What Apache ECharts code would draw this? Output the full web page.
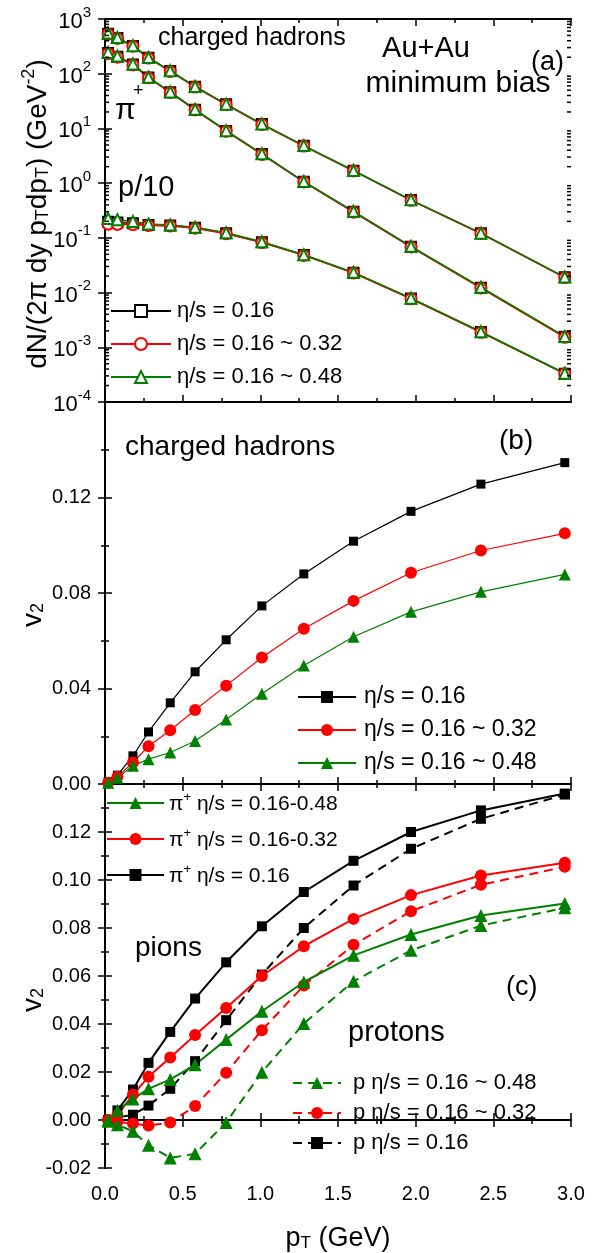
<!DOCTYPE html>
<html>
<head>
<meta charset="utf-8">
<script src="https://cdn.jsdelivr.net/npm/echarts@6/dist/echarts.min.js"></script>
<style>
  html, body { margin: 0; padding: 0; background: #ffffff; }
  #chart { width: 596px; height: 1253px; }
</style>
</head>
<body>
<div id="chart"></div>
<script>
// ---------- data ----------
// transverse momentum of the computed points (GeV)
const pT = [0.02, 0.08, 0.18, 0.28, 0.42, 0.58, 0.78, 1.01, 1.28, 1.60, 1.97, 2.42, 2.96];

// (a) invariant yields, Au+Au minimum bias
const chSpec016    = [540, 450, 322, 196, 112, 58, 27.6, 12.0, 4.80, 1.69, 0.490, 0.121, 0.0190];
const chSpec032    = [530, 442, 318, 193, 110, 57, 27.2, 11.8, 4.75, 1.67, 0.485, 0.120, 0.0188];
const chSpec048    = [555, 458, 326, 198, 113, 58.5, 27.8, 12.1, 4.85, 1.70, 0.495, 0.122, 0.0192];
const piSpec016    = [238, 205, 148, 85, 46, 22.0, 9.0, 3.40, 1.06, 0.300, 0.0690, 0.0123, 0.00155];
const piSpec032    = [232, 200, 145, 84, 45.5, 21.7, 8.9, 3.35, 1.05, 0.295, 0.0680, 0.0121, 0.00152];
const piSpec048    = [245, 210, 151, 86, 46.5, 22.3, 9.1, 3.45, 1.07, 0.305, 0.0700, 0.0125, 0.00158];
const pSpec016     = [0.197, 0.190, 0.184, 0.171, 0.168, 0.153, 0.121, 0.083, 0.0485, 0.0230, 0.0078, 0.00190, 0.000330];
const pSpec032     = [0.178, 0.176, 0.175, 0.168, 0.165, 0.150, 0.119, 0.082, 0.0478, 0.0227, 0.0077, 0.00188, 0.000330];
const pSpec048     = [0.225, 0.215, 0.200, 0.180, 0.172, 0.156, 0.124, 0.085, 0.0492, 0.0234, 0.0079, 0.00192, 0.000335];

// (b) charged hadron v2
const chV2_016 = [0.0010, 0.0037, 0.0118, 0.0218, 0.0340, 0.0470, 0.0604, 0.0746, 0.0880, 0.1017, 0.1142, 0.1256, 0.1346];
const chV2_032 = [0.0005, 0.0030, 0.0090, 0.0158, 0.0225, 0.0310, 0.0412, 0.0530, 0.0650, 0.0767, 0.0885, 0.0978, 0.1050];
const chV2_048 = [0.0005, 0.0026, 0.0076, 0.0104, 0.0132, 0.0180, 0.0270, 0.0378, 0.0496, 0.0617, 0.0721, 0.0805, 0.0878];

// (c) identified v2: pions (solid) and protons (dashed)
const piV2_016 = [0.0000, 0.0040, 0.0127, 0.0238, 0.0367, 0.0506, 0.0657, 0.0807, 0.0950, 0.1080, 0.1200, 0.1290, 0.1360];
const piV2_032 = [0.0000, 0.0020, 0.0106, 0.0180, 0.0260, 0.0354, 0.0467, 0.0600, 0.0724, 0.0838, 0.0937, 0.1019, 0.1072];
const piV2_048 = [0.0000, 0.0040, 0.0088, 0.0130, 0.0169, 0.0230, 0.0335, 0.0453, 0.0575, 0.0686, 0.0773, 0.0852, 0.0902];
const pV2_016  = [0.0000, 0.0010, 0.0022, 0.0060, 0.0130, 0.0245, 0.0416, 0.0606, 0.0800, 0.0977, 0.1130, 0.1255, 0.1356];
const pV2_032  = [0.0000, -0.0008, -0.0015, -0.0023, -0.0010, 0.0058, 0.0197, 0.0374, 0.0560, 0.0730, 0.0870, 0.0980, 0.1055];
const pV2_048  = [-0.0005, -0.0020, -0.0047, -0.0105, -0.0158, -0.0141, -0.0010, 0.0199, 0.0402, 0.0578, 0.0707, 0.0810, 0.0884];

// axis ranges
const xRange = [0, 3.0], xStep = 0.5;
const logRange = [1e-4, 1e3];
const logMinorSteps = [2, 3, 4, 5, 6, 7, 8, 9];
const v2bRange = [0, 0.16], v2bStep = 0.04;
const v2cRange = [-0.02, 0.14], v2cStep = 0.02;

// legend labels
const etaLabels = ['η/s = 0.16', 'η/s = 0.16 ~ 0.32', 'η/s = 0.16 ~ 0.48'];
const piLabels  = ['{n|π}{u|+}{n| η/s = 0.16}', '{n|π}{u|+}{n| η/s = 0.16-0.32}', '{n|π}{u|+}{n| η/s = 0.16-0.48}'];
const pLabels   = ['p η/s = 0.16', 'p η/s = 0.16 ~ 0.32', 'p η/s = 0.16 ~ 0.48'];

// ---------- styling ----------
const FONT = 'Liberation Sans, Arial, sans-serif';
const BLACK = '#000000', RED = '#ff0000', GREEN = '#008000';
const COLORS = [BLACK, RED, GREEN];

const grids = [
  { left: 105, top: 19,  width: 466, height: 383 },
  { left: 105, top: 402, width: 466, height: 382 },
  { left: 105, top: 784, width: 466, height: 384 }
];

function xAxisPair(gi, withLabels) {
  const base = {
    gridIndex: gi, type: 'value', min: xRange[0], max: xRange[1], interval: xStep,
    axisLine: { show: true, lineStyle: { color: BLACK, width: 2 } },
    axisTick: { show: true, inside: true, length: 7, lineStyle: { color: BLACK, width: 1.5 } },
    minorTick: { show: true, splitNumber: 2, length: 4, lineStyle: { color: BLACK, width: 1.5 } },
    splitLine: { show: false }, minorSplitLine: { show: false }
  };
  return [
    Object.assign({}, base, {
      position: 'bottom',
      axisLabel: withLabels ? { show: true, margin: 16, fontFamily: FONT, fontSize: 20, color: BLACK,
        formatter: v => v.toFixed(1) } : { show: false },
      name: withLabels ? '{b|p}{s|T}{b| (GeV)}' : '',
      nameLocation: 'middle', nameGap: 52,
      nameTextStyle: { rich: {
        b: { fontFamily: FONT, fontSize: 27, color: BLACK, lineHeight: 32, verticalAlign: 'bottom' },
        s: { fontFamily: FONT, fontSize: 17, color: BLACK, lineHeight: 16, verticalAlign: 'bottom' }
      } }
    }),
    Object.assign({}, base, { position: 'top', axisLabel: { show: false } })
  ];
}

function linearYPair(gi, range, step, hideMax) {
  const base = {
    gridIndex: gi, type: 'value', min: range[0], max: range[1], interval: step,
    axisLine: { show: true, lineStyle: { color: BLACK, width: 2 } },
    axisTick: { show: true, inside: true, length: 7, lineStyle: { color: BLACK, width: 1.5 } },
    minorTick: { show: true, splitNumber: 2, length: 4, lineStyle: { color: BLACK, width: 1.5 } },
    splitLine: { show: false }, minorSplitLine: { show: false }
  };
  return [
    Object.assign({}, base, {
      position: 'left',
      axisLabel: { show: true, margin: 14, fontFamily: FONT, fontSize: 20, color: BLACK,
        showMaxLabel: !hideMax, formatter: v => v.toFixed(2) }
    }),
    Object.assign({}, base, { position: 'right', axisLabel: { show: false } })
  ];
}

function logYPair(gi) {
  const base = {
    gridIndex: gi, type: 'log', logBase: 10, min: logRange[0], max: logRange[1], splitNumber: 7,
    axisLine: { show: true, lineStyle: { color: BLACK, width: 2 } },
    axisTick: { show: true, inside: true, length: 7, lineStyle: { color: BLACK, width: 1.5 } },
    minorTick: { show: false }, splitLine: { show: false }
  };
  return [
    Object.assign({}, base, {
      position: 'left',
      axisLabel: { show: true, margin: 14, color: BLACK,
        formatter: v => '{b|10}{s|' + Math.round(Math.log10(v)) + '}',
        rich: {
          b: { fontFamily: FONT, fontSize: 22, color: BLACK, lineHeight: 28, verticalAlign: 'bottom' },
          s: { fontFamily: FONT, fontSize: 15, color: BLACK, lineHeight: 15, verticalAlign: 'top' }
        } }
    }),
    Object.assign({}, base, { position: 'right', axisLabel: { show: false } })
  ];
}

// minor ticks (2..9 per decade) for the log axis, drawn on both vertical edges
const logMinorTicks = [];
for (let e = Math.log10(logRange[0]); e < Math.log10(logRange[1]); e++) {
  logMinorSteps.forEach(m => logMinorTicks.push([0, m * Math.pow(10, e)]));
}

function series(name, xi, yi, xs, ys, color, symbol, size, dashed, width) {
  return {
    name: name, type: 'line', xAxisIndex: xi, yAxisIndex: yi,
    data: xs.map((x, i) => [x, ys[i]]),
    symbol: symbol, symbolSize: size,
    lineStyle: { color: color, width: width, type: dashed ? [9, 6] : 'solid' },
    itemStyle: { color: color, borderColor: color, borderWidth: symbol.indexOf('empty') === 0 ? 1.3 : 0 },
    emphasis: { disabled: true }, animation: false, z: 3
  };
}

const spectra = [
  [chSpec016, chSpec032, chSpec048],
  [piSpec016, piSpec032, piSpec048],
  [pSpec016,  pSpec032,  pSpec048]
];
const openSymbols = ['emptyRect', 'emptyCircle', 'emptyTriangle'];
const openSizes = [10, 11, 11];
const filledSymbols = ['rect', 'circle', 'triangle'];

const allSeries = [];
spectra.forEach(group => {
  group.forEach((ys, k) => {
    allSeries.push(series('a' + k, 0, 0, pT, ys, COLORS[k], openSymbols[k], openSizes[k], false, 1.5));
  });
});
[chV2_016, chV2_032, chV2_048].forEach((ys, k) => {
  allSeries.push(series('b' + k, 2, 2, pT, ys, COLORS[k], filledSymbols[k], [9, 12, 12][k], false, 1.2));
});
[pV2_016, pV2_032, pV2_048].forEach((ys, k) => {
  allSeries.push(series('p' + k, 4, 4, pT, ys, COLORS[k], filledSymbols[k], [10, 12, 13][k], true, 2));
});
[piV2_016, piV2_032, piV2_048].forEach((ys, k) => {
  allSeries.push(series('c' + k, 4, 4, pT, ys, COLORS[k], filledSymbols[k], [10, 12, 13][k], false, 2));
});
allSeries.push({
  type: 'custom', xAxisIndex: 0, yAxisIndex: 0, data: logMinorTicks, silent: true, clip: false,
  animation: false, z: 5,
  renderItem: function (params, api) {
    const cs = params.coordSys;
    const y = api.coord([0, api.value(1)])[1];
    const st = { stroke: BLACK, lineWidth: 1.5 };
    return { type: 'group', children: [
      { type: 'line', shape: { x1: cs.x, y1: y, x2: cs.x + 4, y2: y }, style: st },
      { type: 'line', shape: { x1: cs.x + cs.width - 4, y1: y, x2: cs.x + cs.width, y2: y }, style: st }
    ] };
  }
});

function legend(names, labels, left, top, itemWidth, itemHeight, gap, textPad, fontSize) {
  const map = {};
  names.forEach((n, i) => { map[n] = labels[i]; });
  return {
    data: names, orient: 'vertical', left: left, top: top, padding: 0,
    itemWidth: itemWidth, itemHeight: itemHeight, itemGap: gap, selectedMode: false,
    formatter: n => map[n],
    textStyle: {
      fontFamily: FONT, fontSize: fontSize, color: BLACK, lineHeight: 24, padding: [0, 0, 0, textPad],
      rich: {
        n: { fontFamily: FONT, fontSize: fontSize, color: BLACK, lineHeight: 24, verticalAlign: 'bottom' },
        u: { fontFamily: FONT, fontSize: 13, color: BLACK, lineHeight: 14, verticalAlign: 'top' }
      }
    }
  };
}

function txt(x, y, text, size, align) {
  return { type: 'text', x: x, y: y, silent: true,
    style: { text: text, font: size + 'px ' + FONT, fill: BLACK, align: align || 'left', verticalAlign: 'middle' } };
}

const richTitle = {
  b: { fontFamily: FONT, fontSize: 28, color: BLACK, lineHeight: 32, verticalAlign: 'bottom' },
  s: { fontFamily: FONT, fontSize: 18, color: BLACK, lineHeight: 16, verticalAlign: 'bottom' },
  u: { fontFamily: FONT, fontSize: 18, color: BLACK, lineHeight: 16, verticalAlign: 'top' }
};

const option = {
  backgroundColor: '#ffffff',
  animation: false,
  grid: grids,
  xAxis: [].concat(xAxisPair(0, false), xAxisPair(1, false), xAxisPair(2, true)),
  yAxis: [].concat(logYPair(0), linearYPair(1, v2bRange, v2bStep, true), linearYPair(2, v2cRange, v2cStep, true)),
  legend: [
    legend(['a0', 'a1', 'a2'], etaLabels, 110, 299, 60, 15, 9, 1, 22),
    legend(['b0', 'b1', 'b2'], etaLabels, 297, 685, 58, 15, 9, 3, 23),
    legend(['c2', 'c1', 'c0'], [piLabels[2], piLabels[1], piLabels[0]], 106, 791, 57, 15, 12, 0, 21),
    legend(['p2', 'p1', 'p0'], [pLabels[2], pLabels[1], pLabels[0]], 292, 1071, 48, 15, 6, 7, 22)
  ],
  series: allSeries,
  graphic: [
    txt(158, 38, 'charged hadrons', 25),
    txt(426, 49, 'Au+Au', 29, 'center'),
    txt(458, 84, 'minimum bias', 30, 'center'),
    txt(531, 63, '(a)', 27),
    txt(115, 111, 'π', 30),
    txt(133, 91, '+', 18),
    txt(118, 188, 'p/10', 29),
    txt(125, 447, 'charged hadrons', 28),
    txt(499, 441, '(b)', 28),
    txt(135, 948, 'pions', 28),
    txt(506, 988, '(c)', 27),
    txt(348, 1033, 'protons', 29),
    { type: 'text', x: 36, y: 214, rotation: Math.PI / 2, silent: true,
      style: { text: '{b|dN/(2π dy p}{s|T}{b|dp}{s|T}{b|) (GeV}{u|-2}{b|)}', rich: richTitle,
        align: 'center', verticalAlign: 'middle' } },
    { type: 'text', x: 31, y: 615, rotation: Math.PI / 2, silent: true,
      style: { text: '{b|v}{s|2}', rich: richTitle, align: 'center', verticalAlign: 'middle' } },
    { type: 'text', x: 31, y: 1000, rotation: Math.PI / 2, silent: true,
      style: { text: '{b|v}{s|2}', rich: richTitle, align: 'center', verticalAlign: 'middle' } }
  ]
};

const chart = echarts.init(document.getElementById('chart'), null, { renderer: 'canvas' });
chart.setOption(option);
</script>
</body>
</html>
